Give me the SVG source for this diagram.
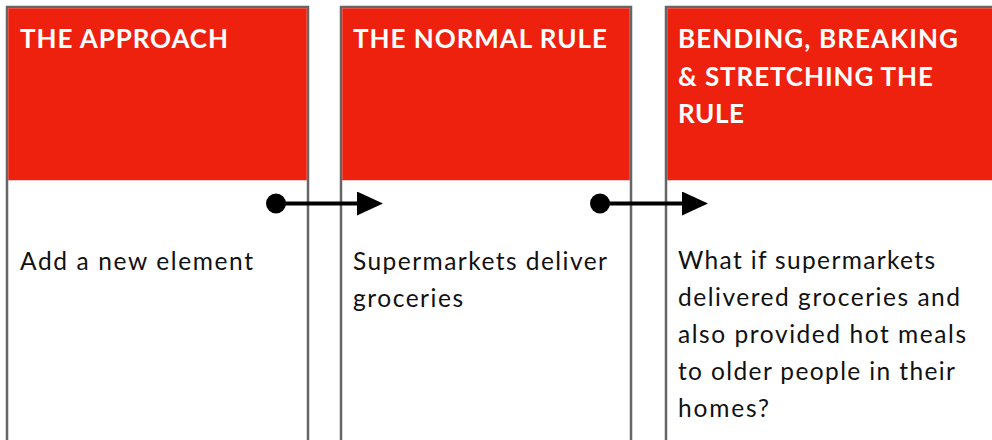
<svg xmlns="http://www.w3.org/2000/svg" width="992" height="440" viewBox="0 0 992 440">
<style>
.box{fill:#fff;stroke:#666;stroke-width:2.5}
.head{fill:#EE210E}
.ht{font-family:Lato,"Noto Sans",sans-serif;font-weight:bold;font-size:26px;fill:#fff}
.bt{font-family:Lato,"Noto Sans",sans-serif;font-size:24.5px;fill:#111}
.con{stroke:#000;stroke-width:4;fill:none}
</style>
<defs>
<marker id="arr" markerWidth="26" markerHeight="24" refX="0" refY="12" orient="auto" markerUnits="userSpaceOnUse">
<path d="M0,0 L26,12 L0,24 Z" fill="#000"/>
</marker>
</defs>
<g id="node-approach">
<rect class="box" x="7" y="7" width="301" height="450"/>
<rect class="head" x="8.25" y="8.25" width="298.5" height="172"/>
<text class="ht" x="20" y="48" textLength="208" lengthAdjust="spacing">THE APPROACH</text>
<text class="bt" x="20" y="270" textLength="233" lengthAdjust="spacing">Add a new element</text>
</g>
<g id="node-normal">
<rect class="box" x="341" y="7" width="290" height="450"/>
<rect class="head" x="342.25" y="8.25" width="287.5" height="172"/>
<text class="ht" x="353" y="48" textLength="254" lengthAdjust="spacing">THE NORMAL RULE</text>
<text class="bt" x="353" y="270" textLength="254" lengthAdjust="spacing">Supermarkets deliver</text>
<text class="bt" x="353" y="307" textLength="110" lengthAdjust="spacing">groceries</text>
</g>
<g id="node-bending">
<rect class="box" x="666" y="7" width="340" height="450"/>
<rect class="head" x="667.25" y="8.25" width="337.5" height="172"/>
<text class="ht" x="678" y="48" textLength="280" lengthAdjust="spacing">BENDING, BREAKING</text>
<text class="ht" x="678" y="86" textLength="255" lengthAdjust="spacing">&amp; STRETCHING THE</text>
<text class="ht" x="678" y="123" textLength="66" lengthAdjust="spacing">RULE</text>
<text class="bt" x="678" y="269" textLength="257" lengthAdjust="spacing">What if supermarkets</text>
<text class="bt" x="678" y="306" textLength="282" lengthAdjust="spacing">delivered groceries and</text>
<text class="bt" x="678" y="343" textLength="288" lengthAdjust="spacing">also provided hot meals</text>
<text class="bt" x="678" y="380" textLength="277" lengthAdjust="spacing">to older people in their</text>
<text class="bt" x="678" y="417" textLength="91" lengthAdjust="spacing">homes?</text>
</g>
<g id="connectors">
<circle cx="276" cy="203.5" r="10" fill="#000"/>
<line class="con" x1="276" y1="203.5" x2="357" y2="203.5" marker-end="url(#arr)"/>
<circle cx="600" cy="203.5" r="10" fill="#000"/>
<line class="con" x1="600" y1="203.5" x2="682" y2="203.5" marker-end="url(#arr)"/>
</g>
</svg>
